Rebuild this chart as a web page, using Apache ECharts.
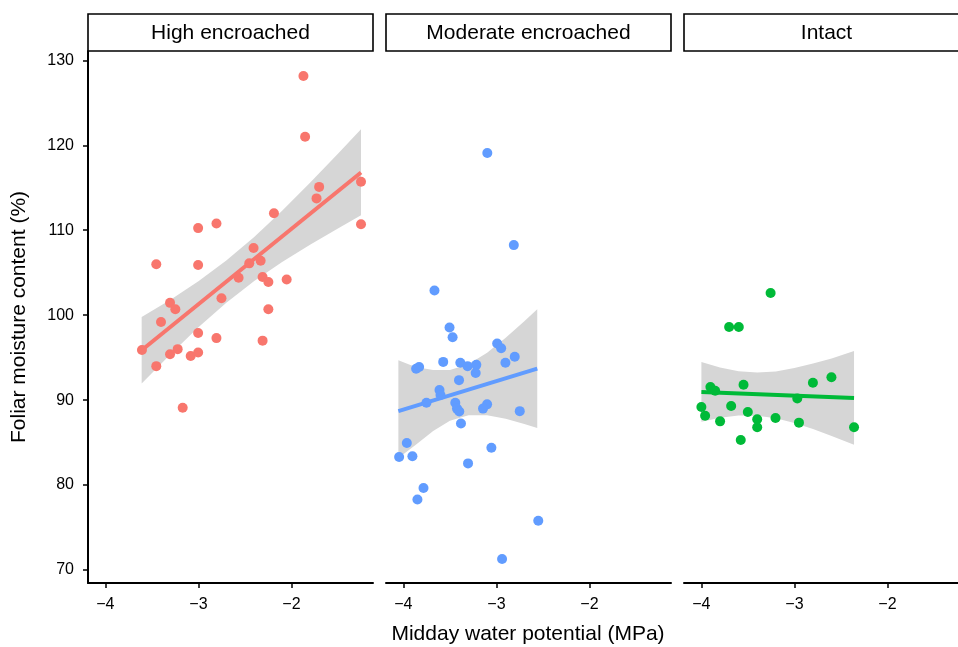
<!DOCTYPE html>
<html>
<head>
<meta charset="utf-8">
<script src="https://cdn.jsdelivr.net/npm/echarts@6/dist/echarts.min.js"></script>
<style>
html, body { margin: 0; padding: 0; background: #fff; }
#chart { width: 958px; height: 647px; }
</style>
</head>
<body>
<div id="chart"></div>
<script>
// facets and colours
var panels = ['High encroached', 'Moderate encroached', 'Intact'];
var colors = ['#F8766D', '#619CFF', '#00BA38'];
var yTicks = [70, 80, 90, 100, 110, 120, 130];
var xTicks = [-4, -3, -2];

// points
var highX = [-3.607, -3.453, -3.453, -3.402, -3.305, -3.248, -3.305, -3.223, -3.169, -3.083, -3.003, -3.003, -3.003, -3.003, -2.806, -2.806, -2.752, -2.568, -2.453, -2.407, -2.331, -2.310, -2.248, -2.248, -2.310, -2.188, -2.051, -1.730, -1.702, -1.252, -1.252, -1.871, -1.853];
var highY = [95.9, 94.0, 106.0, 99.2, 101.45, 100.7, 95.4, 96.0, 89.1, 95.2, 95.6, 97.9, 105.9, 110.25, 110.8, 97.3, 102.0, 104.4, 106.1, 107.9, 106.4, 104.5, 103.9, 100.7, 97.0, 112.0, 104.2, 113.75, 115.1, 115.7, 110.7, 128.15, 121.0];

var modX = [-3.098, -2.813, -3.666, -3.504, -3.471, -2.992, -2.949, -2.803, -2.903, -3.831, -3.863, -3.572, -3.388, -3.310, -3.216, -3.223, -3.402, -3.612, -3.601, -3.752, -3.442, -3.424, -3.399, -3.100, -3.144, -2.749, -3.381, -3.963, -3.054, -4.046, -3.903, -3.305, -3.784, -3.849, -2.550, -2.939];
var modY = [119.1, 108.25, 102.9, 98.55, 97.4, 96.67, 96.1, 95.1, 94.4, 93.9, 93.7, 94.5, 94.4, 94.0, 94.15, 93.2, 92.35, 91.2, 90.6, 89.7, 89.7, 89.0, 88.65, 89.5, 89.0, 88.7, 87.25, 84.95, 84.4, 83.3, 83.4, 82.55, 79.65, 78.3, 75.8, 71.3];

var intX = [-3.256, -3.702, -3.598, -2.602, -2.801, -3.547, -3.903, -3.852, -2.969, -4.0, -3.680, -3.960, -3.501, -3.799, -3.400, -3.203, -2.951, -3.400, -2.359, -3.577];
var intY = [102.6, 98.6, 98.6, 92.7, 92.05, 91.8, 91.55, 91.1, 90.2, 89.2, 89.3, 88.15, 88.6, 87.5, 87.75, 87.9, 87.35, 86.8, 86.8, 85.3];

// fitted lines (ends)
var highLineX = [-3.607, -1.252], highLineY = [95.9, 116.8];
var modLineX = [-4.054, -2.561], modLineY = [88.7, 93.7];
var intLineX = [-4.0, -2.359], intLineY = [90.97, 90.26];

// confidence bands
var highBandX = [-3.61, -3.3, -3.0, -2.7, -2.4, -2.1, -1.8, -1.5, -1.252];
var highBandLo = [91.96, 95.41, 98.58, 101.47, 104.01, 106.25, 108.29, 110.21, 111.77];
var highBandHi = [99.78, 101.83, 104.0, 106.43, 109.21, 112.29, 115.59, 118.99, 121.88];

var modBandX = [-4.054, -3.87, -3.68, -3.5, -3.3, -3.1, -2.9, -2.7, -2.561];
var modBandLo = [83.2, 84.72, 86.36, 87.56, 88.23, 88.21, 87.8, 87.19, 86.71];
var modBandHi = [94.7, 93.91, 93.55, 93.55, 94.22, 95.58, 97.34, 99.29, 100.69];

var intBandX = [-4.0, -3.8, -3.6, -3.4, -3.2, -3.0, -2.8, -2.6, -2.359];
var intBandLo = [87.44, 87.91, 88.19, 88.17, 87.86, 87.31, 86.59, 85.77, 84.76];
var intBandHi = [94.5, 93.85, 93.41, 93.25, 93.38, 93.77, 94.31, 94.91, 95.77];

var pointsX = [highX, modX, intX], pointsY = [highY, modY, intY];
var linesX = [highLineX, modLineX, intLineX], linesY = [highLineY, modLineY, intLineY];
var bandsX = [highBandX, modBandX, intBandX];
var bandsLo = [highBandLo, modBandLo, intBandLo];
var bandsHi = [highBandHi, modBandHi, intBandHi];

var FONT = '"Liberation Sans", Arial, sans-serif';
var gridLeft = [88, 386, 684];
var gridWidth = 285;
var gridTop = 51, gridHeight = 532;

function zip(a, b) {
	var out = [];
	for (var i = 0; i < a.length; i++) out.push([a[i], b[i]]);
	return out;
}

function minus(v) {
	return String(v).replace('-', '\u2212');
}

var chart = echarts.init(document.getElementById('chart'));

var grids = [], xAxes = [], yAxes = [], series = [], graphics = [];

for (var i = 0; i < 3; i++) {
	grids.push({
		left: gridLeft[i], top: gridTop, width: gridWidth, height: gridHeight,
		containLabel: false, outerBoundsMode: 'none'
	});

	xAxes.push({
		type: 'value', gridIndex: i, min: -4.187, max: -1.123,
		axisLine: { show: true, onZero: false, lineStyle: { color: '#000', width: 2 } },
		axisTick: { show: true, length: 5, customValues: xTicks, lineStyle: { color: '#000', width: 1.5 } },
		axisLabel: { show: true, customValues: xTicks, margin: 14, color: '#000', fontSize: 16, fontFamily: FONT, formatter: minus },
		splitLine: { show: false }
	});

	yAxes.push({
		type: 'value', gridIndex: i, min: 68.47, max: 131.1, show: i === 0,
		axisLine: { show: true, onZero: false, lineStyle: { color: '#000', width: 2 } },
		axisTick: { show: true, length: 5, customValues: yTicks, lineStyle: { color: '#000', width: 1.5 } },
		axisLabel: { show: true, customValues: yTicks, margin: 14, color: '#000', fontSize: 16, fontFamily: FONT },
		splitLine: { show: false }
	});

	// band polygon
	(function (bx, lo, hi, idx) {
		series.push({
			type: 'custom', xAxisIndex: idx, yAxisIndex: idx, z: 1, silent: true,
			data: [[bx[0], lo[0]]],
			renderItem: function (params, api) {
				var pts = [];
				for (var k = 0; k < bx.length; k++) pts.push(api.coord([bx[k], hi[k]]));
				for (var m = bx.length - 1; m >= 0; m--) pts.push(api.coord([bx[m], lo[m]]));
				return { type: 'polygon', shape: { points: pts }, style: { fill: '#D6D6D6' } };
			}
		});
	})(bandsX[i], bandsLo[i], bandsHi[i], i);

	series.push({
		type: 'line', xAxisIndex: i, yAxisIndex: i, z: 2, silent: true,
		data: zip(linesX[i], linesY[i]),
		symbol: 'none',
		lineStyle: { color: colors[i], width: 4 }
	});

	series.push({
		type: 'scatter', xAxisIndex: i, yAxisIndex: i, z: 3,
		data: zip(pointsX[i], pointsY[i]),
		symbolSize: 10,
		itemStyle: { color: colors[i], opacity: 1 }
	});

	// facet strip
	graphics.push({
		type: 'rect', z: 10,
		shape: { x: gridLeft[i], y: 14, width: gridWidth, height: 37 },
		style: { fill: '#fff', stroke: '#000', lineWidth: 1.6 }
	});
	graphics.push({
		type: 'text', z: 11,
		style: {
			text: panels[i], x: gridLeft[i] + gridWidth / 2, y: 33,
			align: 'center', verticalAlign: 'middle',
			fontSize: 21, fontFamily: FONT, fill: '#000'
		}
	});
}

// axis titles
graphics.push({
	type: 'text', z: 11,
	style: {
		text: 'Midday water potential (MPa)', x: 528, y: 634,
		align: 'center', verticalAlign: 'middle',
		fontSize: 21, fontFamily: FONT, fill: '#000'
	}
});
graphics.push({
	type: 'text', z: 11, x: 19, y: 317, rotation: Math.PI / 2,
	style: {
		text: 'Foliar moisture content (%)', x: 0, y: 0,
		align: 'center', verticalAlign: 'middle',
		fontSize: 21, fontFamily: FONT, fill: '#000'
	}
});

chart.setOption({
	animation: false,
	backgroundColor: '#fff',
	textStyle: { fontFamily: FONT },
	grid: grids,
	xAxis: xAxes,
	yAxis: yAxes,
	series: series,
	graphic: graphics
});
</script>
</body>
</html>
